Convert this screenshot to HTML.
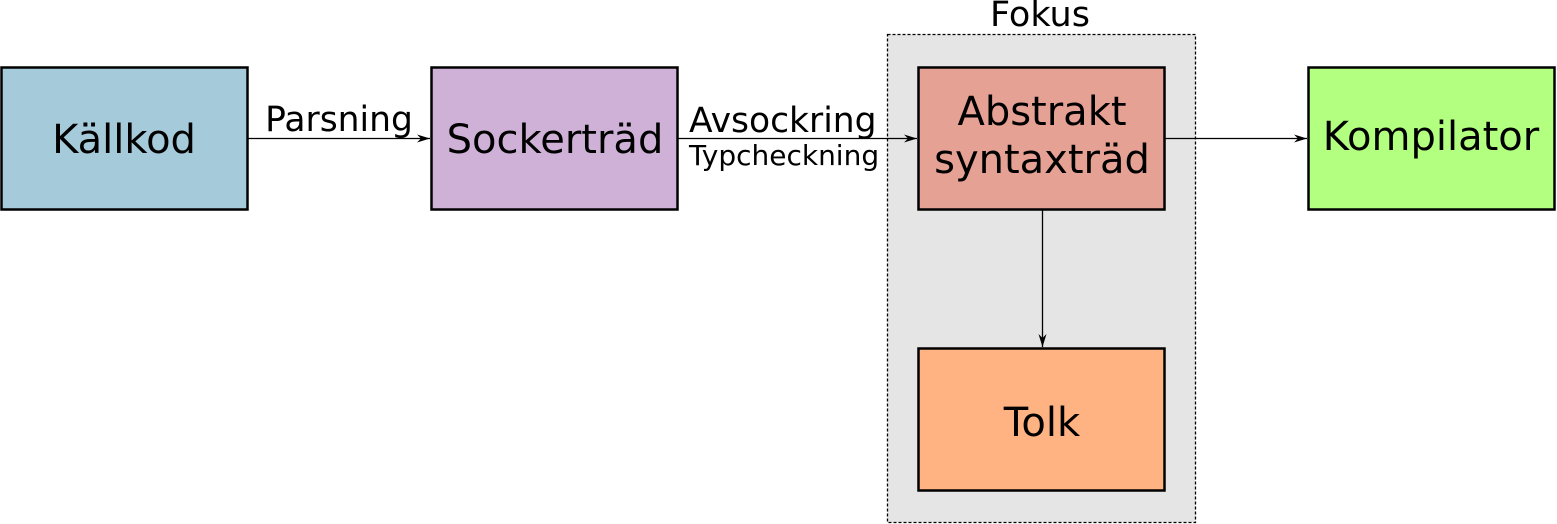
<!DOCTYPE html>
<html><head><style>body{margin:0;background:#fff}svg{display:block}text{font-family:"DejaVu Sans","Liberation Sans",sans-serif}</style></head><body>
<svg width="1557" height="524" viewBox="0 0 1557 524" xmlns="http://www.w3.org/2000/svg">
<defs><marker id="a" markerWidth="14" markerHeight="10" refX="13" refY="5" orient="auto" markerUnits="userSpaceOnUse"><path d="M0,1 L13,5 L0,9 L4,5 Z" fill="#000"/></marker></defs>
<rect x="887.5" y="34.5" width="308" height="488" fill="#e5e5e5" stroke="#000" stroke-width="1.3" stroke-dasharray="3,2"/>
<text x="1040" y="26" font-size="35" text-anchor="middle">Fokus</text>
<rect x="1.5" y="67.5" width="246" height="142" fill="#a5cad9" stroke="#000" stroke-width="2.5"/>
<rect x="431.5" y="67.5" width="246" height="142" fill="#cfb1d8" stroke="#000" stroke-width="2.5"/>
<rect x="918.5" y="67.5" width="246" height="142" fill="#e5a193" stroke="#000" stroke-width="2.5"/>
<rect x="918.5" y="348.5" width="246" height="142" fill="#ffb382" stroke="#000" stroke-width="2.5"/>
<rect x="1308.5" y="67.5" width="246" height="142" fill="#b3ff80" stroke="#000" stroke-width="2.5"/>
<g font-size="40" text-anchor="middle">
<text x="124" y="153">Källkod</text>
<text x="555" y="153">Sockerträd</text>
<text x="1042" y="125">Abstrakt</text>
<text x="1042" y="173">syntaxträd</text>
<text x="1042" y="436">Tolk</text>
<text x="1431" y="150">Kompilator</text>
</g>
<g stroke="#000" stroke-width="1.3" fill="none">
<line x1="248" y1="138.5" x2="430" y2="138.5" marker-end="url(#a)"/>
<line x1="678" y1="138.5" x2="917" y2="138.5" marker-end="url(#a)"/>
<line x1="1165" y1="138.5" x2="1307" y2="138.5" marker-end="url(#a)"/>
<line x1="1042.5" y1="210" x2="1042.5" y2="347" marker-end="url(#a)"/>
</g>
<text x="339" y="131" font-size="34.5" text-anchor="middle">Parsning</text>
<text x="689" y="132" font-size="34.5">Avsockring</text>
<text x="689" y="165" font-size="28">Typcheckning</text>
</svg>
</body></html>
